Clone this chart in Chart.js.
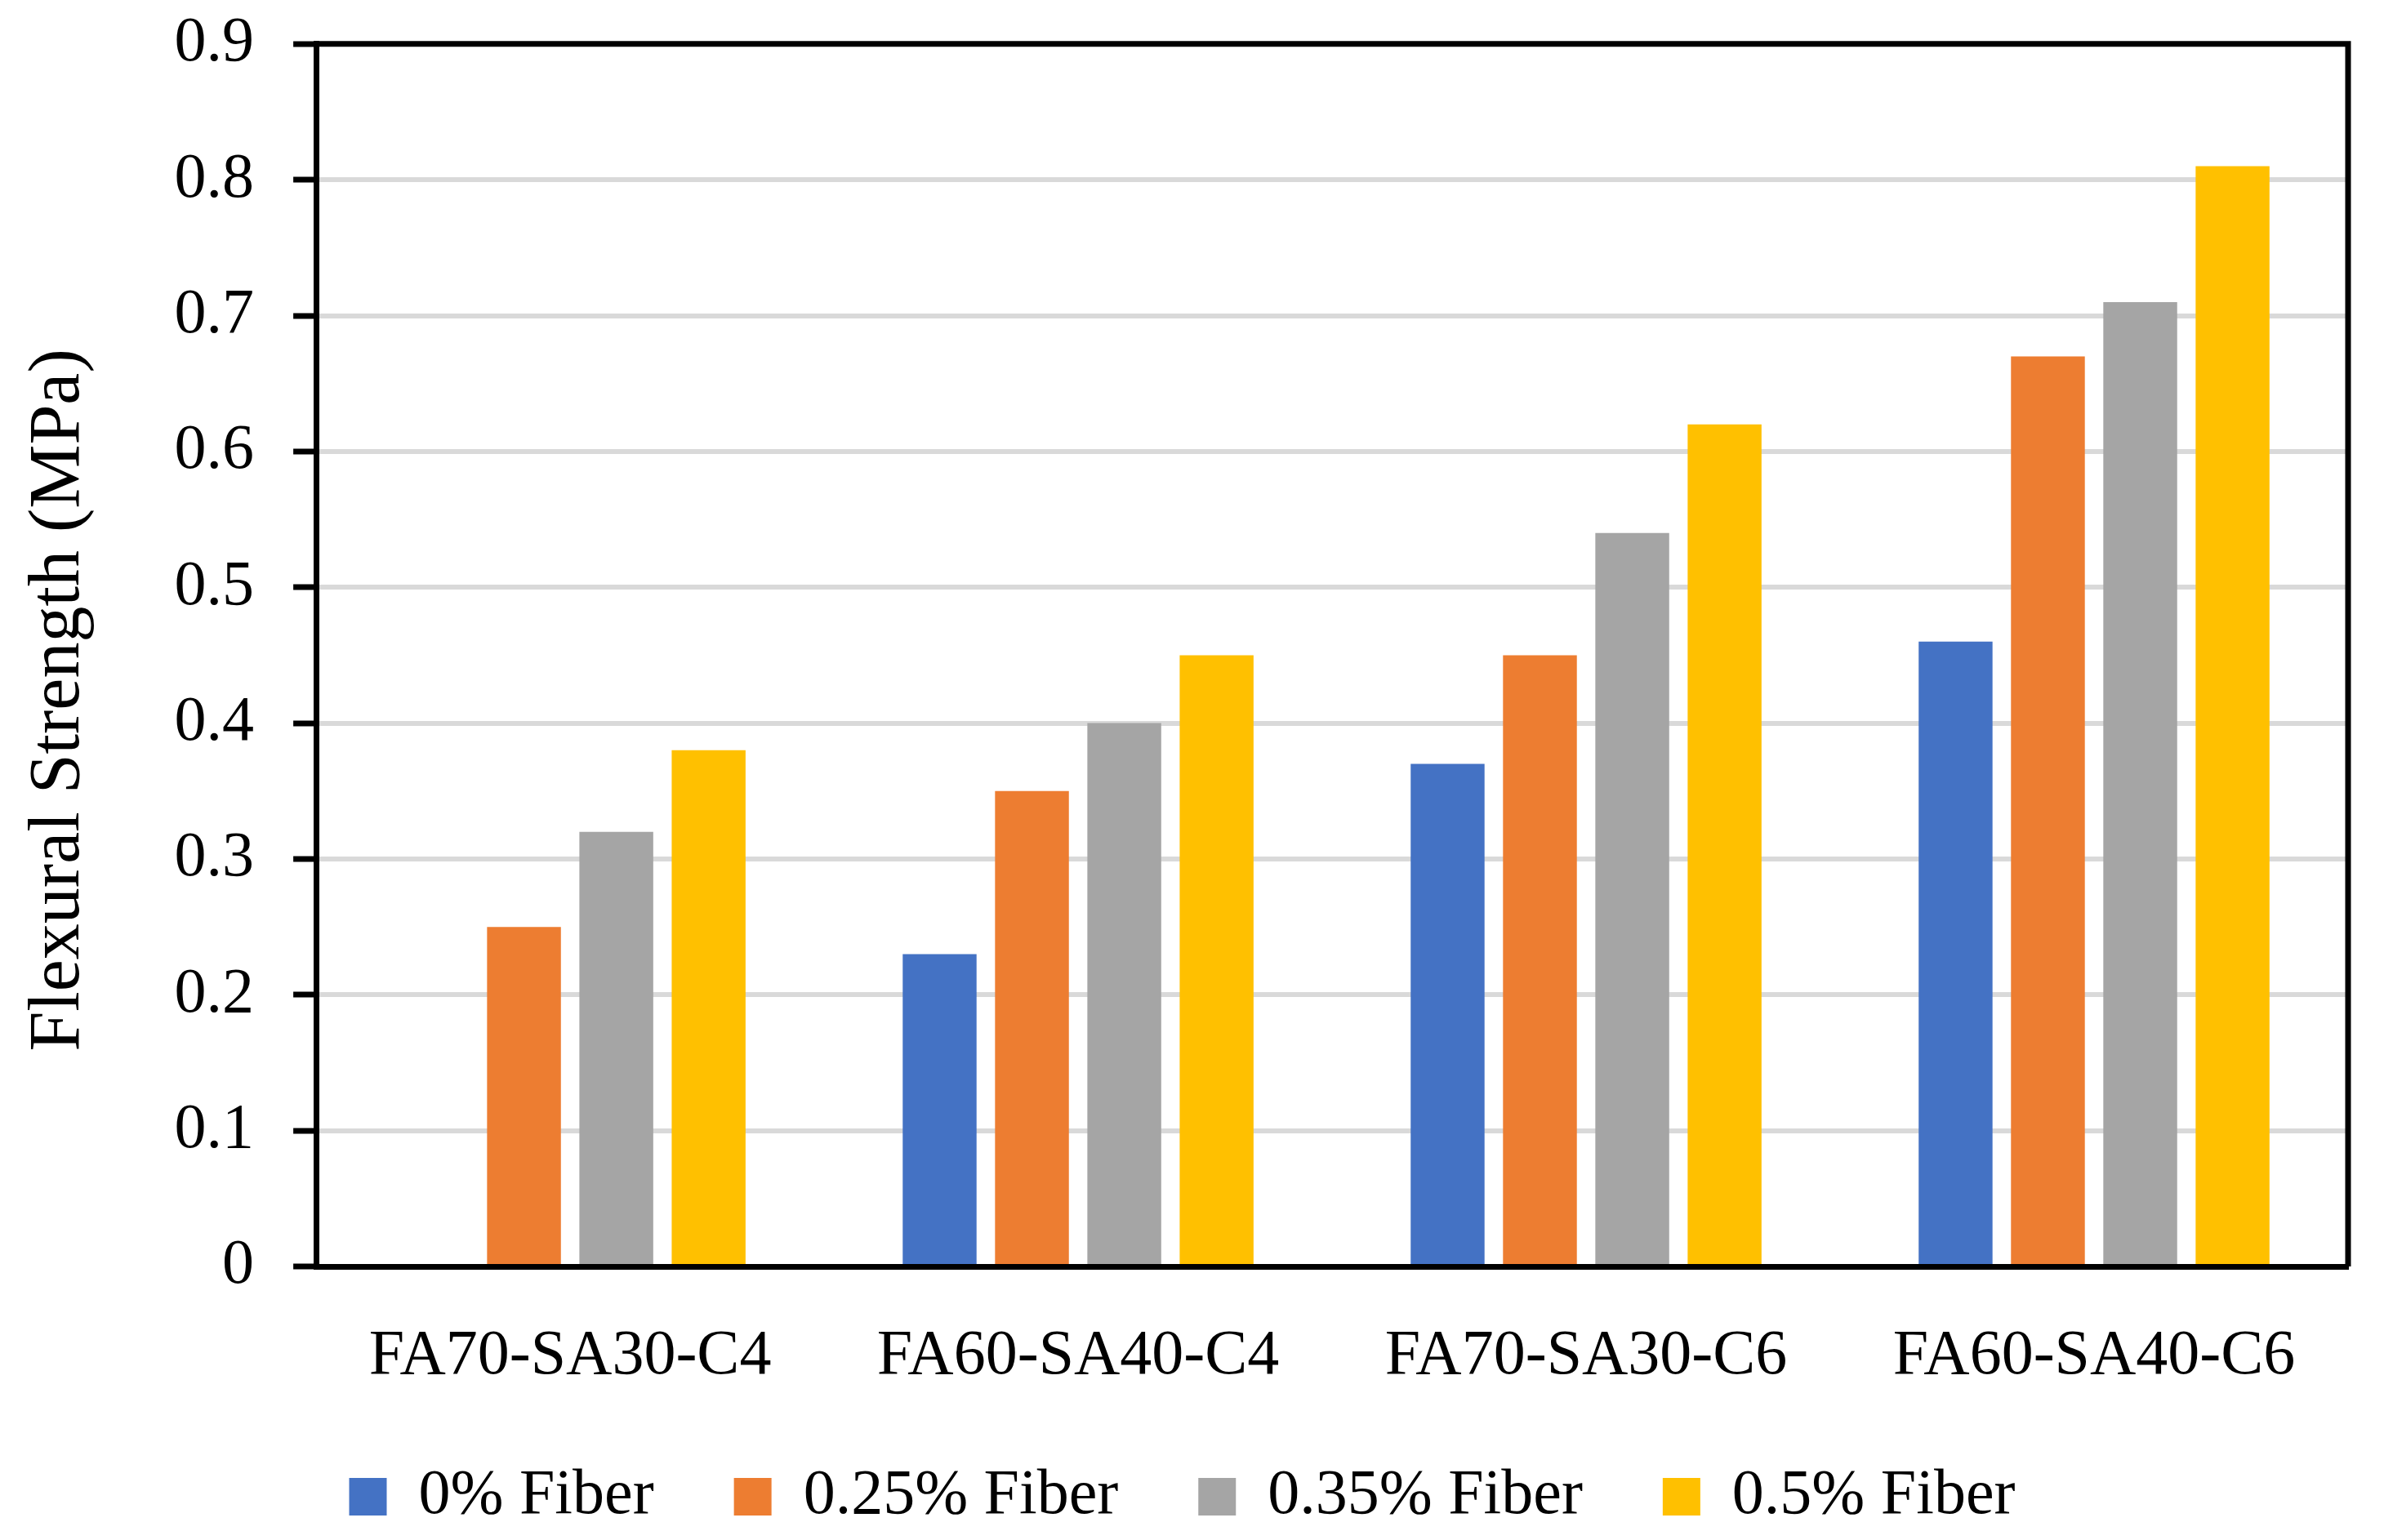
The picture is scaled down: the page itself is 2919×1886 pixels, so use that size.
<!DOCTYPE html>
<html>
<head>
<meta charset="utf-8">
<script src="https://cdn.jsdelivr.net/npm/chart.js@4/dist/chart.umd.min.js"></script>
<style>
  html, body { margin: 0; padding: 0; background: #fff; }
  #wrap { width: 2919px; height: 1886px; }
</style>
</head>
<body>
<div id="wrap"><canvas id="flexChart"></canvas></div>
<script>
// data
const categories = ['FA70-SA30-C4', 'FA60-SA40-C4', 'FA70-SA30-C6', 'FA60-SA40-C6'];
const seriesNames = ['0% Fiber', '0.25% Fiber', '0.35% Fiber', '0.5% Fiber'];
const fiber0 = [0, 0.23, 0.37, 0.46];
const fiber025 = [0.25, 0.35, 0.45, 0.67];
const fiber035 = [0.32, 0.40, 0.54, 0.71];
const fiber05 = [0.38, 0.45, 0.62, 0.81];
const yTicks = [0, 0.1, 0.2, 0.3, 0.4, 0.5, 0.6, 0.7, 0.8, 0.9];

const colors = ['#4472C4', '#ED7D31', '#A5A5A5', '#FFC000'];
const FONT = 'Liberation Serif';

// black frame on top and right of the plot area
const frame = {
  id: 'frame',
  afterDraw(chart) {
    const { ctx, chartArea: a } = chart;
    ctx.save();
    ctx.strokeStyle = '#000';
    ctx.lineWidth = 7;
    ctx.beginPath();
    ctx.moveTo(a.left, a.top);
    ctx.lineTo(a.right, a.top);
    ctx.lineTo(a.right, a.bottom);
    ctx.stroke();
    ctx.restore();
  }
};

const ctx = document.getElementById('flexChart').getContext('2d');

new Chart(ctx, {
  type: 'bar',
  data: {
    labels: categories,
    datasets: [fiber0, fiber025, fiber035, fiber05].map((vals, i) => ({
      label: seriesNames[i],
      data: vals,
      backgroundColor: colors[i],
      borderWidth: 0,
      categoryPercentage: 0.727,
      barPercentage: 0.8
    }))
  },
  options: {
    responsive: true,
    maintainAspectRatio: false,
    animation: false,
    devicePixelRatio: 1,
    layout: { padding: { left: 20, right: 44, top: 0, bottom: 4 } },
    plugins: {
      tooltip: { enabled: false },
      legend: {
        position: 'bottom',
        labels: {
          boxWidth: 46,
          boxHeight: 46,
          padding: 98,
          color: '#000',
          font: { family: FONT, size: 78 }
        }
      }
    },
    scales: {
      x: {
        grid: { display: false },
        border: { color: '#000', width: 7 },
        ticks: {
          color: '#000',
          padding: 71,
          font: { family: FONT, size: 78, lineHeight: 0.8 }
        },
        // keep just enough room for the labels so the legend sits close below
        afterFit(axis) { axis.height = 145; }
      },
      y: {
        min: 0,
        max: 0.9,
        afterBuildTicks(axis) {
          axis.ticks = yTicks.map(v => ({ value: v }));
        },
        grid: {
          color: c => (c.index === yTicks.length - 1 ? '#000' : '#D9D9D9'),
          lineWidth: 6,
          tickColor: '#000',
          tickLength: 28,
          tickWidth: 7
        },
        border: { color: '#000', width: 7 },
        ticks: {
          color: '#000',
          padding: 48,
          font: { family: FONT, size: 78, lineHeight: 0.15 },
          callback: v => String(Math.round(v * 10) / 10)
        },
        title: {
          display: true,
          text: 'Flexural Strength (MPa)     ',
          color: '#000',
          padding: { top: 0, bottom: 40 },
          font: { family: FONT, size: 88 }
        }
      }
    }
  },
  plugins: [frame]
});
</script>
</body>
</html>
